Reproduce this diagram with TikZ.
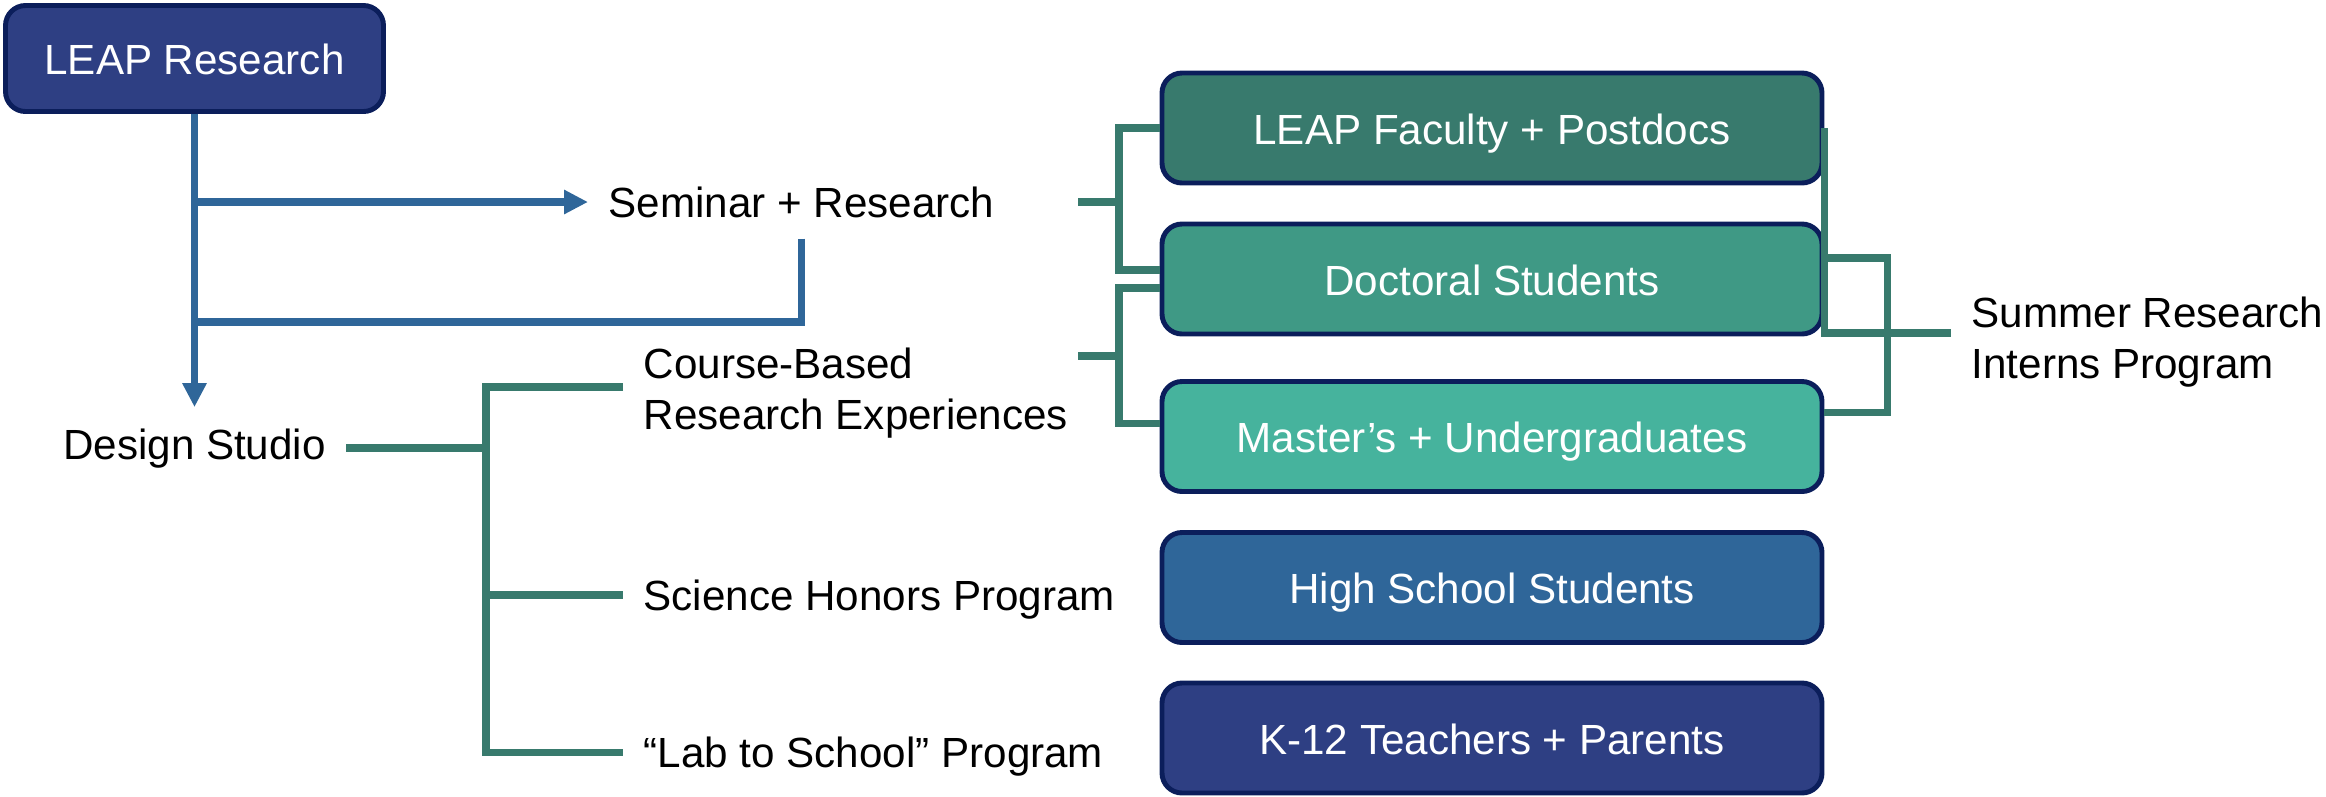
\documentclass[tikz,border=0pt]{standalone}
\usepackage{fontspec}
\setmainfont{Liberation Sans}
\usetikzlibrary{arrows.meta}

\definecolor{navyfill}{HTML}{2E3F83}
\definecolor{navyedge}{HTML}{0B1E5B}
\definecolor{tealdark}{HTML}{387A6D}
\definecolor{tealmid}{HTML}{3F9985}
\definecolor{teallight}{HTML}{46B39D}
\definecolor{steel}{HTML}{2F6699}

\tikzset{
	groupbox/.style={draw=navyedge, line width=1.4pt, rounded corners=0.2cm, text=white, minimum width=6.6cm, minimum height=1.1cm, text height=0.93em, text depth=0pt, font=\fontsize{12}{14.4}\selectfont},
	lbl/.style={inner sep=0.2cm, text height=0.9em, text depth=0pt, font=\fontsize{12}{14.4}\selectfont},
	lbltwo/.style={inner sep=0.2cm, font=\fontsize{12}{14.4}\selectfont, align=left},
	bline/.style={draw=steel, line width=2pt},
	gline/.style={draw=tealdark, line width=2pt},
	tip/.style={-{Triangle[length=0.24cm, width=0.23cm]}}
}

\begin{document}
\begin{tikzpicture}
		\useasboundingbox (0,0) rectangle (23.26,-7.96);

		\node[groupbox, fill=navyfill, minimum width=3.78cm, minimum height=1.06cm] (leap) at (1.945,-0.585) {LEAP Research};
		\node[lbl, anchor=west] (sem) at (5.88,-2.02) {Seminar + Research};
		\node[lbl, text depth=0.25em] (design) at (1.945,-4.48) {Design Studio};

		\coordinate (merge) at (1.945,-3.22);
		\draw[bline, tip] (leap) -- (design);
		\draw[bline, tip] (leap |- sem) -- (sem.west);
		\draw[bline] (sem.south) |- (merge);

		\node[lbltwo, anchor=west] (cbre) at (6.23,-3.93) {Course-Based\\Research Experiences};
		\node[lbl, anchor=west] (shp) at (6.23,-5.95) {Science Honors Program};
		\node[lbl, anchor=west] (lts) at (6.23,-7.52) {“Lab to School” Program};

		\coordinate (gj) at (4.86,-4.48);
		\draw[gline] (design.east) -- (gj);
		\draw[gline] ([yshift=0.06cm]cbre.west) -| (gj) |- (lts.west);
		\draw[gline] (gj |- shp) -- (shp.west);

		\node[groupbox, fill=tealdark] (fac) at (14.92,-1.28) {LEAP Faculty + Postdocs};
		\node[groupbox, fill=tealmid] (doc) at (14.92,-2.79) {Doctoral Students};
		\node[groupbox, fill=teallight] (mas) at (14.92,-4.365) {Master’s + Undergraduates};
		\node[groupbox, fill=steel] (hss) at (14.92,-5.875) {High School Students};
		\node[groupbox, fill=navyfill] (k12) at (14.92,-7.38) {K-12 Teachers + Parents};

		\coordinate (sa) at (10.78,-2.02);
		\coordinate (ja) at (11.19,-2.02);
		\coordinate (sb) at (10.78,-3.56);
		\coordinate (jb) at (11.19,-3.56);
		\draw[gline] (sa) -- (ja);
		\draw[gline] (fac.west) -| (ja) |- ([yshift=0.09cm]doc.west);
		\draw[gline] (sb) -- (jb);
		\draw[gline] ([yshift=-0.09cm]doc.west) -| (jb) |- ([yshift=0.13cm]mas.west);

		\node[lbltwo, anchor=west] (srip) at (19.51,-3.42) {Summer Research\\Interns Program};

		\coordinate (jr) at (18.87,-3.33);
		\draw[gline] (fac.east) |- ([yshift=0.09cm]srip.west);
		\draw[gline] ([yshift=0.21cm]doc.east) -| (jr) |- ([yshift=0.24cm]mas.east);

	\end{tikzpicture}
\end{document}
